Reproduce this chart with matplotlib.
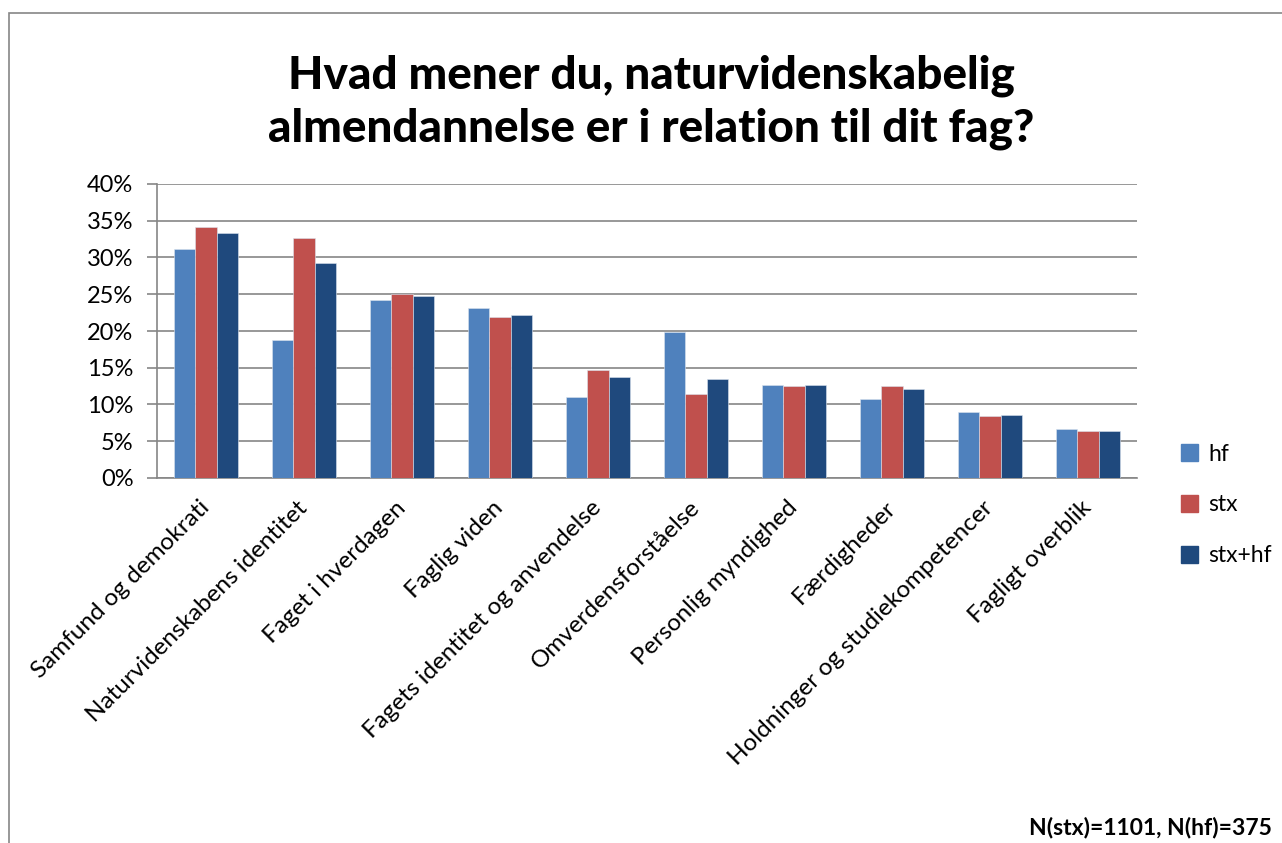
import numpy as np
import matplotlib
matplotlib.use("Agg")
import matplotlib.pyplot as plt
from matplotlib.patches import Rectangle

plt.rcParams['font.family'] = ['Lato', 'DejaVu Sans']

# Data (percent)
categories = ['Samfund og demokrati', 'Naturvidenskabens identitet', 'Faget i hverdagen',
              'Faglig viden', 'Fagets identitet og anvendelse', 'Omverdensforståelse',
              'Personlig myndighed', 'Færdigheder', 'Holdninger og studiekompetencer',
              'Fagligt overblik']
hf = [31.1, 18.8, 24.2, 23.1, 11.0, 19.9, 12.7, 10.8, 9.0, 6.6]
stx = [34.1, 32.7, 25.0, 21.9, 14.7, 11.4, 12.5, 12.5, 8.5, 6.4]
stx_hf = [33.3, 29.2, 24.8, 22.2, 13.8, 13.5, 12.6, 12.1, 8.6, 6.45]
series_names = ['hf', 'stx', 'stx+hf']
colors = ['#4F81BD', '#C0504D', '#1F497D']

W, H = 1282, 843
fig = plt.figure(figsize=(W / 100, H / 100), dpi=100)

# outer chart frame
fig.patches.append(Rectangle((9 / W, -0.01), 1.2, 1 - 13 / H + 0.01, transform=fig.transFigure,
                             fill=False, edgecolor='#868686', linewidth=1.2))

ax = fig.add_axes([157 / W, 1 - 478 / H, (1137 - 157) / W, (478 - 184) / H])

x = np.arange(len(categories))
bw = 0.22
for i, (vals, name, c) in enumerate(zip([hf, stx, stx_hf], series_names, colors)):
    ax.bar(x + (i - 1) * bw, np.array(vals) / 100, bw, color=c, label=name,
           edgecolor='#dbe3ee', linewidth=0.4, zorder=3)

ax.set_xlim(-0.5, len(categories) - 0.5)
ax.set_ylim(0, 0.40)
ax.set_yticks(np.arange(0, 0.401, 0.05))
ax.set_yticklabels([f'{int(round(v * 100))}%' for v in np.arange(0, 0.401, 0.05)], fontsize=17)
ax.yaxis.grid(True, color='#868686', linewidth=1.2, zorder=0)
ax.set_axisbelow(True)
for s in ['top', 'right']:
    ax.spines[s].set_visible(False)
ax.spines['left'].set_color('#868686')
ax.spines['bottom'].set_color('#868686')
ax.spines['left'].set_linewidth(1.2)
ax.spines['bottom'].set_linewidth(1.2)
ax.tick_params(axis='y', length=7, color='#868686', width=1.2, pad=10)

ax.set_xticks(x)
ax.set_xticklabels(categories, fontsize=17.5, rotation=45, ha='right', va='center',
                   rotation_mode='anchor')
ax.tick_params(axis='x', length=0, pad=19)

fig.text(651 / W, 1 - 102 / H, 'Hvad mener du, naturvidenskabelig\nalmendannelse er i relation til dit fag?',
         ha='center', va='center', fontsize=33, fontweight='black', linespacing=1.3)

handles = [Rectangle((0, 0), 1, 1, color=c) for c in colors]
fig.legend(handles, series_names, loc='center left', bbox_to_anchor=(1160 / W, 1 - 505 / H),
           frameon=False, fontsize=16.5, handlelength=0.75, handleheight=0.75,
           labelspacing=1.3, handletextpad=0.45)

fig.text(1272 / W, 1 - 827 / H, 'N(stx)=1101, N(hf)=375', ha='right', va='center',
         fontsize=16.5, fontweight='bold')

fig.savefig('out.png', dpi=100)
